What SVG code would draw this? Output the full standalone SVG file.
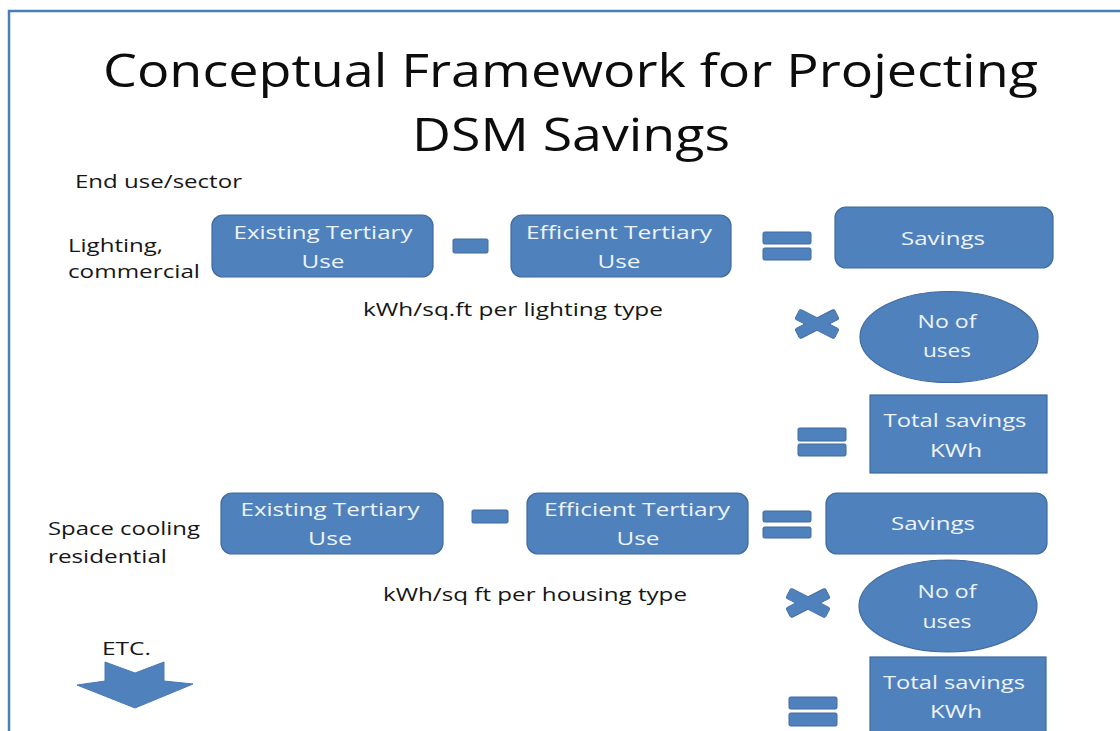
<svg xmlns="http://www.w3.org/2000/svg" width="1120" height="731" viewBox="0 0 1120 731">
  <style>
    .shape { fill: #4f81bd; stroke: #3f6a9e; stroke-width: 1.2; }
    .op { fill: #4f81bd; stroke: #3f6a9e; stroke-width: 1; }
    .opfill { fill: #4f81bd; }
    .lbl { font-family: "Open Sans", "Liberation Sans", sans-serif; font-size: 19px; fill: #161616; }
    .in { font-family: "Open Sans", "Liberation Sans", sans-serif; font-size: 19px; fill: #eef3fa; text-anchor: middle; }
    .title { font-family: "Open Sans", "Liberation Sans", sans-serif; font-size: 45px; fill: #0d0d0d; }
  </style>

  <defs>
    <!-- one arm of the multiplication sign -->
    <rect id="arm" x="-22" y="-5.5" width="44" height="11" rx="2"/>
  </defs>

  <rect width="1120" height="731" fill="#ffffff"/>

  <!-- slide frame -->
  <path d="M9,731 V11 H1120" fill="none" stroke="#4a7ebb" stroke-width="2.5"/>

  <!-- heading -->
  <g id="title">
    <text class="title" x="103" y="87" textLength="935" lengthAdjust="spacingAndGlyphs">Conceptual Framework for Projecting</text>
    <text class="title" x="412" y="151" textLength="318" lengthAdjust="spacingAndGlyphs">DSM Savings</text>
  </g>

  <!-- row labels -->
  <g id="labels">
    <text class="lbl" x="75" y="188" textLength="167" lengthAdjust="spacingAndGlyphs">End use/sector</text>
    <text class="lbl" x="68" y="252" textLength="95" lengthAdjust="spacingAndGlyphs">Lighting,</text>
    <text class="lbl" x="68" y="278" textLength="132" lengthAdjust="spacingAndGlyphs">commercial</text>
    <text class="lbl" x="363" y="316" textLength="300" lengthAdjust="spacingAndGlyphs">kWh/sq.ft per lighting type</text>
    <text class="lbl" x="48" y="535" textLength="152" lengthAdjust="spacingAndGlyphs">Space cooling</text>
    <text class="lbl" x="48" y="563" textLength="119" lengthAdjust="spacingAndGlyphs">residential</text>
    <text class="lbl" x="383" y="601" textLength="304" lengthAdjust="spacingAndGlyphs">kWh/sq ft per housing type</text>
    <text class="lbl" x="102" y="655" textLength="49" lengthAdjust="spacingAndGlyphs">ETC.</text>
  </g>

  <!-- lighting, commercial -->
  <g id="existing-lighting">
    <rect class="shape" x="212" y="215" width="221" height="62" rx="11"/>
    <text class="in" x="323" y="239" textLength="179" lengthAdjust="spacingAndGlyphs">Existing Tertiary</text>
    <text class="in" x="323" y="268" textLength="43" lengthAdjust="spacingAndGlyphs">Use</text>
  </g>
  <g id="efficient-lighting">
    <rect class="shape" x="511" y="215" width="220" height="62" rx="11"/>
    <text class="in" x="619" y="239" textLength="186" lengthAdjust="spacingAndGlyphs">Efficient Tertiary</text>
    <text class="in" x="619" y="268" textLength="43" lengthAdjust="spacingAndGlyphs">Use</text>
  </g>
  <g id="savings-lighting">
    <rect class="shape" x="835" y="207" width="218" height="61" rx="11"/>
    <text class="in" x="943" y="245" textLength="84" lengthAdjust="spacingAndGlyphs">Savings</text>
  </g>
  <g id="uses-lighting">
    <ellipse class="shape" cx="949" cy="337" rx="89" ry="45.5"/>
    <text class="in" x="947" y="328" textLength="59" lengthAdjust="spacingAndGlyphs">No of</text>
    <text class="in" x="947" y="357" textLength="48" lengthAdjust="spacingAndGlyphs">uses</text>
  </g>
  <g id="total-lighting">
    <rect class="shape" x="870" y="395" width="177" height="78"/>
    <text class="in" x="955" y="427" textLength="143" lengthAdjust="spacingAndGlyphs">Total savings</text>
    <text class="in" x="956" y="457" textLength="52" lengthAdjust="spacingAndGlyphs">KWh</text>
  </g>

  <!-- space cooling, residential -->
  <g id="existing-cooling">
    <rect class="shape" x="221" y="493" width="222" height="61" rx="11"/>
    <text class="in" x="330" y="516" textLength="179" lengthAdjust="spacingAndGlyphs">Existing Tertiary</text>
    <text class="in" x="330" y="545" textLength="44" lengthAdjust="spacingAndGlyphs">Use</text>
  </g>
  <g id="efficient-cooling">
    <rect class="shape" x="527" y="493" width="221" height="61" rx="11"/>
    <text class="in" x="637" y="516" textLength="186" lengthAdjust="spacingAndGlyphs">Efficient Tertiary</text>
    <text class="in" x="638" y="545" textLength="43" lengthAdjust="spacingAndGlyphs">Use</text>
  </g>
  <g id="savings-cooling">
    <rect class="shape" x="826" y="493" width="221" height="61" rx="11"/>
    <text class="in" x="933" y="530" textLength="84" lengthAdjust="spacingAndGlyphs">Savings</text>
  </g>
  <g id="uses-cooling">
    <ellipse class="shape" cx="948" cy="606" rx="89" ry="46"/>
    <text class="in" x="947" y="598" textLength="59" lengthAdjust="spacingAndGlyphs">No of</text>
    <text class="in" x="947" y="628" textLength="49" lengthAdjust="spacingAndGlyphs">uses</text>
  </g>
  <g id="total-cooling">
    <rect class="shape" x="870" y="657" width="176" height="90"/>
    <text class="in" x="954" y="689" textLength="142" lengthAdjust="spacingAndGlyphs">Total savings</text>
    <text class="in" x="956" y="718" textLength="52" lengthAdjust="spacingAndGlyphs">KWh</text>
  </g>

  <!-- operator signs between the terms -->
  <g id="connectors">
    <rect class="op" x="453" y="239" width="35" height="14" rx="1.5"/>
    <rect class="op" x="763" y="232" width="48" height="12" rx="1.5"/>
    <rect class="op" x="763" y="248" width="48" height="12" rx="1.5"/>
    <!-- outlined arms first, then plain fill on top so the crossing stays clean -->
    <g transform="translate(817,324)">
      <use href="#arm" class="op" transform="rotate(27)"/>
      <use href="#arm" class="op" transform="rotate(-27)"/>
      <use href="#arm" class="opfill" transform="rotate(27)"/>
    </g>
    <rect class="op" x="798" y="428" width="48" height="13" rx="1.5"/>
    <rect class="op" x="798" y="444" width="48" height="12" rx="1.5"/>

    <rect class="op" x="472" y="510" width="36" height="13" rx="1.5"/>
    <rect class="op" x="763" y="511" width="48" height="11" rx="1.5"/>
    <rect class="op" x="763" y="527" width="48" height="11" rx="1.5"/>
    <g transform="translate(808,603)">
      <use href="#arm" class="op" transform="rotate(27)"/>
      <use href="#arm" class="op" transform="rotate(-27)"/>
      <use href="#arm" class="opfill" transform="rotate(27)"/>
    </g>
    <rect class="op" x="789" y="697" width="48" height="12" rx="1.5"/>
    <rect class="op" x="789" y="713" width="48" height="13" rx="1.5"/>
  </g>

  <!-- continuation arrow -->
  <g id="etc-arrow">
    <polygon points="77,685 105,681 105,662 135,673 164,662 164,681 193,684 135,708" fill="#4f81bd" stroke="#4a7ab3" stroke-width="1" stroke-linejoin="round"/>
  </g>
</svg>
